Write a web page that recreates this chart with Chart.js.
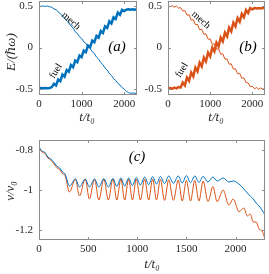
<!DOCTYPE html>
<html>
<head>
<meta charset="utf-8">
<script src="https://cdn.jsdelivr.net/npm/chart.js@4.4.0/dist/chart.umd.min.js"></script>
<style>
  body { margin: 0; background: #fff; width: 269px; height: 274px; position: relative; overflow: hidden; }
  canvas { position: absolute; }
</style>
</head>
<body>
<canvas id="ca" width="140" height="125" style="left:0;top:0"></canvas>
<canvas id="cb" width="139" height="125" style="left:130px;top:0"></canvas>
<canvas id="cc" width="269" height="144" style="left:0;top:130px"></canvas>
<script>
// time axis for the energy panels (a), (b)
const tE = [0, 50, 100, 150, 200, 250, 300, 350, 400, 450, 500, 550, 600, 650, 700, 750, 800, 850, 900, 950,
  1000, 1050, 1100, 1150, 1200, 1250, 1300, 1350, 1400, 1450, 1500, 1550, 1600, 1650, 1700, 1750, 1800, 1850,
  1900, 1950, 2000, 2050, 2100, 2150, 2200, 2250, 2300];

// panel (a)
const mechA = [0.5, 0.495, 0.5, 0.495, 0.5, 0.49, 0.485, 0.465, 0.455, 0.43, 0.41, 0.38, 0.355, 0.32, 0.295, 0.26,
  0.235, 0.19, 0.17, 0.13, 0.11, 0.07, 0.05, 0.01, -0.01, -0.05, -0.07, -0.115, -0.14, -0.18, -0.205, -0.245,
  -0.27, -0.31, -0.335, -0.375, -0.395, -0.43, -0.45, -0.48, -0.5, -0.525, -0.54, -0.55, -0.545, -0.55, -0.55];
const fuelA = [-0.49, -0.485, -0.49, -0.485, -0.49, -0.485, -0.475, -0.435, -0.455, -0.385, -0.405, -0.325, -0.35,
  -0.27, -0.29, -0.21, -0.235, -0.155, -0.175, -0.095, -0.115, -0.035, -0.055, 0.025, 0.005, 0.085, 0.065, 0.14,
  0.12, 0.2, 0.175, 0.255, 0.235, 0.315, 0.29, 0.365, 0.345, 0.42, 0.395, 0.455, 0.44, 0.455, 0.46, 0.455, 0.46,
  0.455, 0.46];

// panel (b)
const mechB = [0.5, 0.49, 0.505, 0.485, 0.5, 0.475, 0.48, 0.44, 0.445, 0.39, 0.395, 0.33, 0.335, 0.275, 0.28, 0.215,
  0.22, 0.16, 0.165, 0.1, 0.105, 0.04, 0.045, -0.02, -0.015, -0.08, -0.075, -0.14, -0.135, -0.2, -0.195, -0.26,
  -0.255, -0.315, -0.31, -0.37, -0.365, -0.42, -0.425, -0.47, -0.465, -0.495, -0.48, -0.5, -0.485, -0.5, -0.49];
const fuelB = [-0.49, -0.485, -0.495, -0.48, -0.49, -0.475, -0.48, -0.42, -0.455, -0.36, -0.4, -0.3, -0.345, -0.24,
  -0.285, -0.18, -0.225, -0.12, -0.165, -0.06, -0.105, 0.0, -0.045, 0.06, 0.015, 0.12, 0.075, 0.18, 0.135, 0.24,
  0.195, 0.3, 0.255, 0.355, 0.31, 0.405, 0.365, 0.45, 0.415, 0.475, 0.46, 0.475, 0.47, 0.475, 0.47, 0.475, 0.475];

// panel (c): velocity, sampled at the turning points
const tV = [0, 30, 60, 90, 120, 150, 180, 210, 240, 265, 310, 371, 412, 470, 513, 565, 609, 660, 706, 752, 792,
  833, 872, 912, 951, 990, 1032, 1075, 1116, 1157, 1196, 1235, 1278, 1320, 1368, 1417, 1458, 1500, 1542, 1585,
  1628, 1670, 1720, 1770, 1813, 1874, 1932, 1976, 2035, 2085, 2120, 2150, 2180, 2210, 2240, 2270, 2300];
const vBlue = [-0.785, -0.805, -0.812, -0.835, -0.845, -0.86, -0.88, -0.89, -0.91, -0.92, -0.98, -0.945, -0.985,
  -0.945, -0.985, -0.945, -0.985, -0.943, -0.985, -0.942, -0.982, -0.94, -0.98, -0.94, -0.978, -0.937, -0.975,
  -0.935, -0.973, -0.933, -0.97, -0.932, -0.968, -0.93, -0.966, -0.93, -0.965, -0.928, -0.963, -0.93, -0.962,
  -0.932, -0.96, -0.935, -0.955, -0.94, -0.96, -0.955, -0.97, -0.995, -1.015, -1.03, -1.045, -1.065, -1.08,
  -1.1, -1.125];
const vOrange = [-0.79, -0.81, -0.817, -0.84, -0.85, -0.868, -0.888, -0.898, -0.918, -0.928, -1.01, -0.945, -1.03,
  -0.945, -1.045, -0.945, -1.05, -0.945, -1.05, -0.945, -1.05, -0.945, -1.05, -0.945, -1.05, -0.945, -1.05,
  -0.945, -1.05, -0.945, -1.05, -0.947, -1.052, -0.948, -1.052, -0.95, -1.055, -0.952, -1.055, -0.952, -1.055,
  -0.955, -1.058, -0.983, -1.058, -1.0, -1.075, -1.045, -1.108, -1.09, -1.13, -1.12, -1.16, -1.16, -1.195,
  -1.205, -1.245];

// tick labels
const xTicksE = [0, 1000, 2000];
const yTicksE = [-0.5, 0, 0.5];
const xTicksV = [0, 500, 1000, 1500, 2000];
const yTicksV = [-1.2, -1, -0.8];

const BLUE = '#0072BD';
const ORANGE = '#D95319';
const SERIF = '"Liberation Serif", "DejaVu Serif", serif';

// MATLAB style box with inward ticks + free text (axis titles, curve names, panel tags)
const frame = {
  id: 'frame',
  afterDatasetsDraw(chart, args, opts) {
    const { ctx, chartArea: a, scales } = chart;
    ctx.save();
    ctx.strokeStyle = '#8c8c8c';
    ctx.lineWidth = 1;
    ctx.strokeRect(a.left + 0.5, a.top + 0.5, a.right - a.left - 1, a.bottom - a.top - 1);
    ctx.beginPath();
    scales.x.ticks.forEach(t => {
      const px = Math.round(scales.x.getPixelForValue(t.value)) + 0.5;
      ctx.moveTo(px, a.bottom); ctx.lineTo(px, a.bottom - 3);
      ctx.moveTo(px, a.top); ctx.lineTo(px, a.top + 3);
    });
    scales.y.ticks.forEach(t => {
      const py = Math.round(scales.y.getPixelForValue(t.value)) + 0.5;
      ctx.moveTo(a.left, py); ctx.lineTo(a.left + 3, py);
      ctx.moveTo(a.right, py); ctx.lineTo(a.right - 3, py);
    });
    ctx.stroke();
    ctx.textAlign = 'center';
    ctx.textBaseline = 'middle';
    (opts.notes || []).forEach(n => {
      ctx.save();
      ctx.fillStyle = n.color || '#000';
      ctx.translate(n.x, n.y);
      ctx.rotate(n.rot * Math.PI / 180);
      ctx.font = n.font;
      ctx.fillText(n.text, 0, 0);
      ctx.restore();
    });
    ctx.restore();
  }
};

function line(xs, ys, color, width, smooth) {
  return {
    data: xs.map((x, i) => ({ x: x, y: ys[i] })),
    borderColor: color,
    borderWidth: width,
    pointRadius: 0,
    fill: false,
    tension: 0,
    cubicInterpolationMode: smooth ? 'monotone' : 'default'
  };
}

function axes(o) {
  return {
    x: {
      type: 'linear', min: 0, max: 2300,
      grid: { display: false, drawTicks: false }, border: { display: false },
      afterBuildTicks: s => { s.ticks = o.xTicks.map(v => ({ value: v })); },
      afterFit: s => { s.height = o.xH; s.paddingLeft = 0; s.paddingRight = 0; },
      ticks: { autoSkip: false, maxRotation: 0, padding: 3, color: '#262626',
        font: { family: SERIF, size: 11 }, callback: v => String(v) }
    },
    y: {
      type: 'linear', min: o.yMin, max: o.yMax,
      grid: { display: false, drawTicks: false }, border: { display: false },
      afterBuildTicks: s => { s.ticks = o.yTicks.map(v => ({ value: v })); },
      afterFit: s => { s.width = o.yW; s.paddingTop = 0; s.paddingBottom = 0; },
      ticks: { autoSkip: false, padding: 6, color: '#262626',
        font: { family: SERIF, size: 11 }, callback: v => String(v) }
    }
  };
}

function base(datasets, scales, padding, notes) {
  return {
    type: 'line',
    data: { datasets: datasets },
    options: {
      responsive: false, animation: false, devicePixelRatio: 1,
      layout: { padding: padding },
      plugins: { legend: { display: false }, tooltip: { enabled: false }, frame: { notes: notes } },
      scales: scales
    },
    plugins: [frame]
  };
}

const noteFont = '10px ' + SERIF;
const tagFont = 'italic 15px ' + SERIF;
const titleFont = 'italic 13px ' + SERIF;
const TXT = '#262626';

new Chart(document.getElementById('ca'), base(
  [line(tE, fuelA, BLUE, 2.5, false), line(tE, mechA, BLUE, 1, false)],
  axes({ xTicks: xTicksE, yTicks: yTicksE, yMin: -0.57, yMax: 0.56, yW: 39, xH: 30 }),
  { left: 0, right: 3, top: 1, bottom: 0 },
  [{ text: 'mech', x: 71, y: 21, rot: 42, font: noteFont },
   { text: 'fuel', x: 56, y: 71, rot: -58, font: noteFont },
   { text: '(a)', x: 117, y: 47, rot: 0, font: tagFont },
   { text: 't/t\u2080', x: 87, y: 118, rot: 0, font: titleFont, color: TXT },
   { text: 'E/(\u210F\u03C9)', x: 12, y: 52, rot: -90, font: titleFont, color: TXT }]
));

new Chart(document.getElementById('cb'), base(
  [line(tE, fuelB, ORANGE, 2.5, false), line(tE, mechB, ORANGE, 1, false)],
  axes({ xTicks: xTicksE, yTicks: yTicksE, yMin: -0.57, yMax: 0.56, yW: 38, xH: 30 }),
  { left: 0, right: 4, top: 1, bottom: 0 },
  [{ text: 'mech', x: 71, y: 20, rot: 42, font: noteFont },
   { text: 'fuel', x: 52, y: 70, rot: -58, font: noteFont },
   { text: '(b)', x: 118, y: 47, rot: 0, font: tagFont },
   { text: 't/t\u2080', x: 86, y: 118, rot: 0, font: titleFont, color: TXT }]
));

new Chart(document.getElementById('cc'), base(
  [line(tV, vBlue, BLUE, 1, true), line(tV, vOrange, ORANGE, 1, true)],
  axes({ xTicks: xTicksV, yTicks: yTicksV, yMin: -1.25, yMax: -0.75, yW: 39, xH: 34 }),
  { left: 0, right: 4, top: 10, bottom: 0 },
  [{ text: '(c)', x: 137, y: 27, rot: 0, font: tagFont },
   { text: 't/t\u2080', x: 152, y: 135, rot: 0, font: titleFont, color: TXT },
   { text: 'v/v\u2080', x: 11, y: 61, rot: -90, font: titleFont, color: TXT }]
));
</script>
</body>
</html>
